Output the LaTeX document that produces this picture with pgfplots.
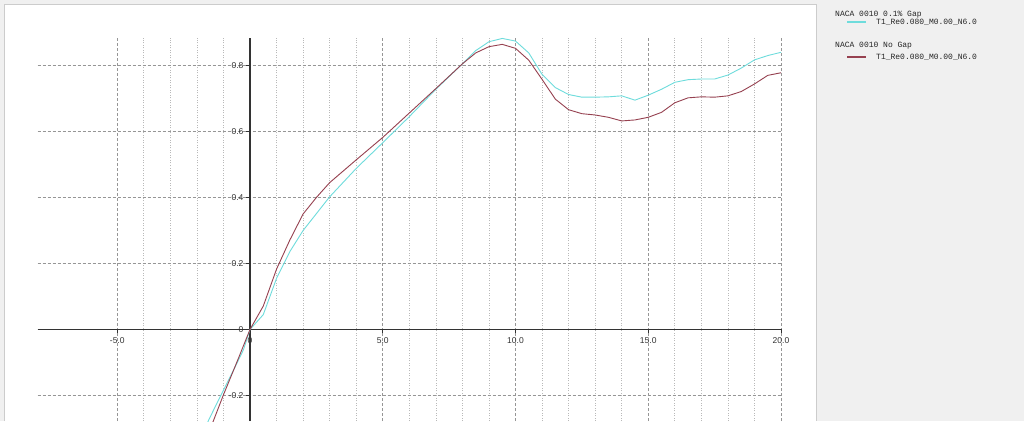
\documentclass[border=0pt]{standalone}
\usepackage{fontspec}
\setmainfont{Liberation Sans}
\newfontfamily\monofont{Liberation Mono}
\usepackage{pgfplots}
\pgfplotsset{compat=1.18}
\definecolor{gapc}{RGB}{110,220,220}
\definecolor{nogapc}{RGB}{150,65,80}
\definecolor{panel}{RGB}{240,240,240}
\definecolor{gridmaj}{RGB}{150,150,150}
\definecolor{gridmin}{RGB}{185,185,185}
\pgfplotstableread{
a cl
-2.0 -0.350
-1.5 -0.265
-1.1 -0.200
-0.6 -0.120
-0.25 -0.062
0.0 0.000
0.5 0.045
1.0 0.155
1.5 0.236
2.0 0.300
3.0 0.402
4.0 0.488
5.0 0.566
6.0 0.645
7.0 0.728
8.0 0.805
8.5 0.845
9.0 0.872
9.5 0.882
10.0 0.874
10.5 0.838
11.0 0.773
11.5 0.733
12.0 0.712
12.5 0.704
13.0 0.704
13.5 0.705
14.0 0.708
14.5 0.695
15.0 0.710
15.5 0.728
16.0 0.749
16.5 0.757
17.0 0.759
17.5 0.759
18.0 0.771
18.5 0.792
19.0 0.817
19.5 0.830
20.0 0.840
}\gapdata
\pgfplotstableread{
a cl
-2.0 -0.400
-1.38 -0.277
-1.0 -0.198
-0.5 -0.100
0.0 0.000
0.5 0.071
1.0 0.183
1.5 0.271
2.0 0.350
2.5 0.400
3.0 0.445
4.0 0.514
5.0 0.582
6.0 0.656
7.0 0.730
8.0 0.805
8.5 0.838
9.0 0.857
9.5 0.864
10.0 0.852
10.5 0.816
11.0 0.758
11.5 0.698
12.0 0.666
12.5 0.654
13.0 0.650
13.5 0.643
14.0 0.632
14.5 0.635
15.0 0.643
15.5 0.658
16.0 0.687
16.5 0.702
17.0 0.705
17.5 0.704
18.0 0.708
18.5 0.721
19.0 0.744
19.5 0.770
20.0 0.778
}\nogapdata
\begin{document}
\begin{tikzpicture}[x=1pt,y=1pt]
\fill[panel] (0,0) rectangle (1024,421);
\fill[white] (4,0) rectangle (816,417);
\draw[black!20] (4,0) -- (4,417) -- (816,417) -- (816,0);
\begin{axis}[
  at={(37.6pt,0pt)}, anchor=south west,
  scale only axis, width=743.4pt, height=383pt,
  xmin=-8, xmax=20, ymin=-0.2773, ymax=0.8833,
  axis lines=middle,
  axis line style={-, line width=1.3pt, draw=black!80},
  hide obscured x ticks=false, hide obscured y ticks=false,
  xtick={-5,0,5,10,15,20},
  xticklabels={-5.0,0,5.0,10.0,15.0,20.0},
  ytick={-0.2,0,0.2,0.4,0.6,0.8},
  yticklabels={-0.2,0,0.2,0.4,0.6,0.8},
  minor x tick num=4,
  minor tick length=0pt,
  major tick length=4pt,
  tick align=outside,
  tick style={black!80, line width=0.8pt},
  grid=both,
  major grid style={gridmaj, dash pattern=on 3pt off 2pt, line width=0.7pt},
  minor grid style={gridmin, dash pattern=on 1pt off 1.5pt, line width=0.7pt},
  tick label style={font=\fontsize{8.5}{9}\selectfont, text=black!80},
  xticklabel style={anchor=north, yshift=-1pt},
  yticklabel style={anchor=east, xshift=1pt},
  clip=true,
]
\addplot[gapc, line width=0.9pt] table[x=a, y=cl] {\gapdata};
\addplot[nogapc, line width=0.9pt] table[x=a, y=cl] {\nogapdata};
\node[anchor=south, inner sep=1pt, font=\fontsize{8.5}{9}\selectfont, text=black!80] at (axis cs:0,0.8833) {Cl};
\node[anchor=west, inner sep=0pt, xshift=3pt, yshift=9pt, font=\fontsize{8.5}{9}\selectfont, text=black!80] at (axis cs:20,0) {Alpha};
\end{axis}
\node[anchor=west, inner sep=0pt, font=\monofont\fontsize{8}{9}\selectfont, text=black!85] at (835,406) {NACA 0010 0.1\% Gap};
\draw[gapc, line width=1.2pt] (847,399) -- (866,399);
\node[anchor=west, inner sep=0pt, font=\monofont\fontsize{8}{9}\selectfont, text=black!85] at (876,399) {T1\_Re0.080\_M0.00\_N6.0};
\node[anchor=west, inner sep=0pt, font=\monofont\fontsize{8}{9}\selectfont, text=black!85] at (835,375) {NACA 0010 No Gap};
\draw[nogapc, line width=1.2pt] (847,364) -- (866,364);
\node[anchor=west, inner sep=0pt, font=\monofont\fontsize{8}{9}\selectfont, text=black!85] at (876,364) {T1\_Re0.080\_M0.00\_N6.0};
\pgfresetboundingbox
\useasboundingbox (0,0) rectangle (1024,421);
\end{tikzpicture}
\end{document}
